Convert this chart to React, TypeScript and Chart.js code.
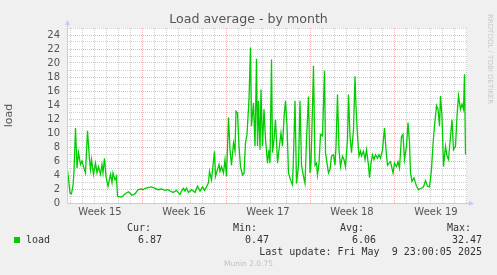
import React, { useEffect, useRef } from "react";
import { Chart, registerables } from "chart.js";

Chart.register(...registerables);

// time axis in hours since graph start (33+ days, 2 h per pixel)
const hours = [
  0, 3, 6, 9, 12, 14, 17, 20, 23, 27, 30, 33, 37, 41, 45, 47, 49, 53, 57, 60, 63, 67, 70, 72, 75, 78, 82, 87, 90, 92, 96, 99, 101,
  109, 112, 116, 120, 123, 126, 130, 136, 142, 149, 152, 156, 162, 169, 176, 182, 189, 196, 202, 212, 219, 226, 229, 233, 236, 239,
  243, 249, 256, 261, 266, 271, 275, 279, 283, 285, 289, 295, 297, 301, 304, 306, 309, 313, 316, 319, 323, 326, 329, 333, 336, 338,
  341, 344, 347, 351, 354, 357, 360, 364, 367, 369, 373, 376, 379, 381, 383, 386, 388, 391, 394, 397, 401, 404, 406, 409, 411, 414,
  417, 421, 424, 428, 431, 434, 437, 440, 443, 447, 451, 453, 456, 459, 463, 466, 469, 473, 476, 479, 483, 486, 488, 491, 493, 496,
  499, 501, 504, 507, 511, 515, 517, 520, 523, 526, 529, 533, 536, 538, 541, 544, 547, 551, 554, 557, 561, 563, 566, 569, 573, 576,
  578, 581, 584, 587, 589, 593, 596, 599, 603, 605, 608, 611, 614, 617, 621, 624, 627, 631, 635, 638, 641, 644, 647, 652, 655, 659,
  662, 665, 669, 672, 675, 679, 682, 685, 687, 690, 694, 699, 703, 709, 713, 717, 721, 725, 729, 732, 735, 739, 742, 745, 747, 750,
  753, 757, 760, 763, 767, 770, 773, 777, 780, 783, 787, 790, 793, 795, 797,
];
const load = [
  5.2, 3.5, 1.4, 1.3, 2.5, 4.5, 10.7, 5.0, 7.2, 5.5, 6.0, 5.2, 4.3, 10.3, 6.2, 4.8, 6.2, 4.1, 5.7, 4.3, 5.2, 4.1, 5.5, 4.3, 6.4, 3.8,
  2.4, 4.1, 2.9, 4.3, 3.3, 3.8, 0.95, 0.85, 1.0, 1.3, 1.5, 1.6, 1.4, 1.1, 1.3, 1.9, 2.0, 1.9, 2.1, 2.2, 2.3, 2.1, 1.9, 2.0, 1.8, 1.9,
  1.5, 1.8, 1.2, 1.7, 2.1, 1.7, 2.1, 1.5, 1.9, 1.5, 2.4, 1.7, 2.3, 1.8, 2.3, 2.9, 4.5, 3.3, 7.4, 3.8, 4.8, 5.5, 4.5, 5.2, 4.3, 6.2,
  3.8, 12.2, 7.6, 5.4, 8.6, 7.4, 13.1, 12.9, 8.1, 5.2, 4.0, 4.2, 8.6, 9.8, 14.8, 22.2, 11.0, 14.3, 8.1, 20.6, 8.1, 14.6, 7.6, 16.2,
  8.1, 13.4, 9.1, 5.7, 7.6, 5.7, 20.5, 7.2, 9.1, 11.9, 5.7, 7.6, 10.0, 8.1, 12.2, 14.6, 11.0, 4.3, 3.3, 2.6, 6.7, 14.6, 2.8, 5.4,
  14.6, 5.4, 3.8, 2.8, 9.1, 15.2, 4.3, 5.7, 13.8, 19.6, 5.4, 5.7, 4.0, 5.7, 9.8, 9.6, 18.9, 7.2, 5.7, 4.3, 4.8, 6.7, 6.9, 5.4, 8.1,
  15.5, 7.6, 5.2, 6.7, 6.2, 5.2, 9.1, 15.5, 9.6, 7.2, 10.5, 18.1, 13.8, 9.6, 6.7, 7.4, 6.7, 7.4, 6.2, 7.6, 5.4, 3.6, 5.7, 6.9, 6.2,
  6.9, 6.4, 6.9, 6.4, 7.6, 10.7, 7.6, 5.4, 5.7, 5.9, 4.3, 5.7, 5.2, 5.9, 5.0, 9.5, 9.8, 6.2, 8.1, 11.5, 8.6, 4.3, 3.1, 3.6, 2.4, 1.9,
  2.1, 2.3, 3.2, 2.4, 2.3, 4.8, 8.4, 11.0, 13.9, 13.4, 11.0, 15.3, 12.4, 5.2, 8.1, 6.7, 6.2, 9.5, 11.9, 7.6, 8.1, 12.4, 15.3, 13.4,
  14.1, 13.4, 18.4, 6.9,
];

const weekLabels = ["Week 15", "Week 16", "Week 17", "Week 18", "Week 19"];
const weekCenters = [66, 234, 402, 570, 738];
const weekStarts = [150, 318, 486, 654];
const firstDayLine = 6;
const xMax = 800;
const yMax = 25;

const legendStats = { cur: "6.87", min: "0.47", avg: "6.06", max: "32.47" };
const lastUpdate = "Last update: Fri May  9 23:00:05 2025";

const RED = "rgba(230,110,110,0.5)";
const GREY = "rgba(150,150,150,0.45)";
const AXIS = "#c8c8f0";

const axisPlugin = {
  id: "muninAxes",
  beforeDraw(chart: any) {
    const { ctx, chartArea: a } = chart;
    ctx.save();
    ctx.fillStyle = "#ffffff";
    ctx.fillRect(a.left, a.top, a.right - a.left, a.bottom - a.top);
    ctx.restore();
  },
  afterDraw(chart: any) {
    const { ctx, chartArea: a } = chart;
    ctx.save();
    ctx.strokeStyle = AXIS;
    ctx.fillStyle = AXIS;
    ctx.lineWidth = 1;
    const lx = Math.round(a.left) + 0.5;
    const by = Math.round(a.bottom) + 0.5;
    ctx.beginPath();
    ctx.moveTo(lx, by);
    ctx.lineTo(lx, a.top - 4);
    ctx.moveTo(lx, by);
    ctx.lineTo(a.right + 3, by);
    ctx.stroke();
    ctx.beginPath();
    ctx.moveTo(lx - 2.5, a.top - 3);
    ctx.lineTo(lx + 2.5, a.top - 3);
    ctx.lineTo(lx, a.top - 8);
    ctx.closePath();
    ctx.fill();
    ctx.beginPath();
    ctx.moveTo(a.right + 2, by - 2.5);
    ctx.lineTo(a.right + 2, by + 2.5);
    ctx.lineTo(a.right + 7, by);
    ctx.closePath();
    ctx.fill();
    ctx.restore();
  },
};

export default function App() {
  const ref = useRef<HTMLCanvasElement>(null);

  useEffect(() => {
    const xTicks: number[] = [];
    for (let h = firstDayLine; h < xMax; h += 12) xTicks.push(h);
    const chart = new Chart(ref.current as HTMLCanvasElement, {
      type: "line",
      data: {
        datasets: [
          {
            label: "load",
            data: hours.map((h, i) => ({ x: h, y: load[i] })),
            borderColor: "#00cc00",
            borderWidth: 1.3,
            pointRadius: 0,
            tension: 0,
            fill: false,
          },
        ],
      },
      options: {
        animation: false,
        responsive: false,
        devicePixelRatio: 1,
        layout: { padding: { left: 0, right: 30, top: 28, bottom: 52 } },
        plugins: { legend: { display: false }, tooltip: { enabled: false }, title: { display: false } },
        scales: {
          x: {
            type: "linear",
            min: 0,
            max: xMax,
            afterBuildTicks(scale: any) {
              scale.ticks = xTicks.map((v) => ({ value: v }));
            },
            afterFit(scale: any) {
              scale.height = 20;
            },
            ticks: {
              autoSkip: false,
              maxRotation: 0,
              padding: 3,
              color: "#555",
              font: { family: "DejaVu Sans", size: 10 },
              callback(v: any) {
                const i = weekCenters.indexOf(Number(v));
                return i >= 0 ? weekLabels[i] : "";
              },
            },
            grid: {
              drawTicks: false,
              lineWidth: 1,
              color(ctx: any) {
                const v = ctx.tick ? ctx.tick.value : -1;
                if (weekStarts.includes(v)) return RED;
                if ((v - firstDayLine) % 24 === 0) return GREY;
                return "rgba(0,0,0,0)";
              },
            },
            border: { display: false, dash: [1, 1] },
          },
          y: {
            min: 0,
            max: yMax,
            afterFit(scale: any) {
              scale.width = 67;
            },
            ticks: {
              stepSize: 1,
              autoSkip: false,
              padding: 7,
              color: "#555",
              font: { family: "DejaVu Sans", size: 10 },
              callback(v: any) {
                return Number(v) % 2 === 0 ? String(v) : "";
              },
            },
            grid: {
              drawTicks: false,
              lineWidth: 1,
              color(ctx: any) {
                const v = ctx.tick ? ctx.tick.value : -1;
                if (v <= 0) return "rgba(0,0,0,0)";
                return v % 2 === 0 ? RED : GREY;
              },
            },
            border: { display: false, dash: [1, 1] },
            title: {
              display: true,
              text: "load",
              color: "#555",
              font: { family: "DejaVu Sans", size: 11 },
              padding: { top: 3, bottom: 0 },
            },
          },
        },
      },
      plugins: [axisPlugin],
    } as any);
    return () => chart.destroy();
  }, []);

  const mono: React.CSSProperties = {
    position: "absolute",
    fontFamily: "'DejaVu Sans Mono', monospace",
    fontSize: "10px",
    lineHeight: "12px",
    color: "#333",
    whiteSpace: "pre",
  };
  const right = (r: number, top: number, text: string) => (
    <span style={{ ...mono, right: 497 - r, top }}>{text}</span>
  );
  const left = (l: number, top: number, text: string) => (
    <span style={{ ...mono, left: l, top }}>{text}</span>
  );

  return (
    <div
      style={{
        position: "absolute",
        left: 0,
        top: 0,
        width: 497,
        height: 275,
        background: "#f0f0f0",
        overflow: "hidden",
      }}
    >
      <canvas ref={ref} width={497} height={275} style={{ position: "absolute", left: 0, top: 0 }} />
      <div
        style={{
          position: "absolute",
          left: 0,
          width: 497,
          top: 11,
          textAlign: "center",
          fontFamily: "'DejaVu Sans', sans-serif",
          fontSize: "12.6px",
          lineHeight: "15px",
          color: "#555",
        }}
      >
        Load average - by month
      </div>
      <span
        style={{
          position: "absolute",
          left: 485,
          top: 14,
          writingMode: "vertical-rl",
          fontFamily: "'DejaVu Sans', sans-serif",
          fontSize: "7px",
          lineHeight: "9px",
          color: "#c8c8c8",
        }}
      >
        RRDTOOL / TOBI OETIKER
      </span>
      {left(127, 222, "Cur:")}
      {left(233, 222, "Min:")}
      {left(340, 222, "Avg:")}
      {left(447, 222, "Max:")}
      <span style={{ position: "absolute", left: 14, top: 237, width: 6, height: 6, background: "#00cc00" }} />
      {left(26, 234, "load")}
      {right(162, 234, legendStats.cur)}
      {right(269, 234, legendStats.min)}
      {right(376, 234, legendStats.avg)}
      {right(482, 234, legendStats.max)}
      {right(482, 246, lastUpdate)}
      <div
        style={{
          position: "absolute",
          left: 0,
          width: 497,
          top: 259,
          textAlign: "center",
          fontFamily: "'DejaVu Sans', sans-serif",
          fontSize: "7.5px",
          lineHeight: "10px",
          color: "#c0c0c0",
        }}
      >
        Munin 2.0.75
      </div>
    </div>
  );
}
